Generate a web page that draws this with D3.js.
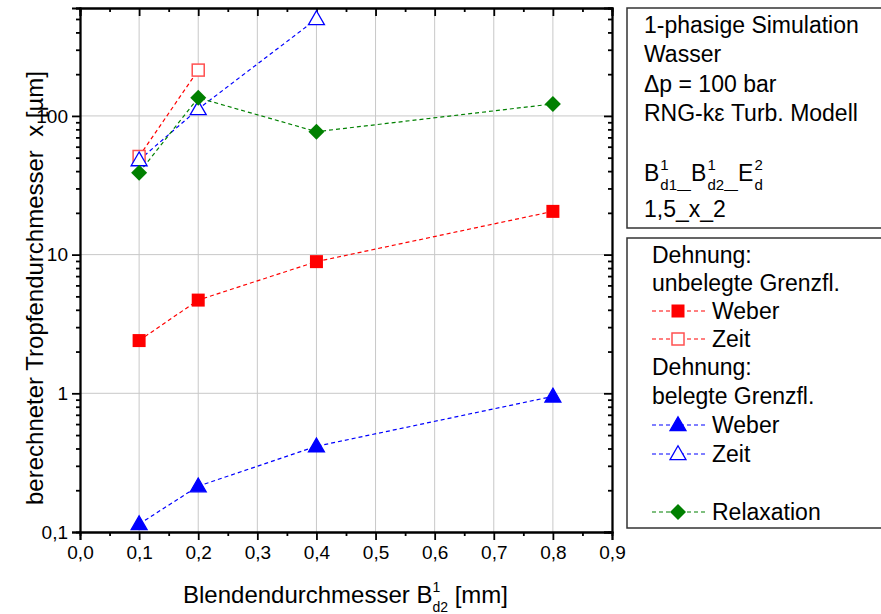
<!DOCTYPE html>
<html>
<head>
    <title>Tropfendurchmesser</title>
    <script src="https://d3js.org/d3.v7.min.js"></script>
    <style>
        body { margin: 0; background: #fff; }
        svg { font-family: "Liberation Sans", Arial, sans-serif; }
        .grid line { stroke: #c8c8c8; stroke-width: 1; }
        .axis path, .axis line { stroke: #000; stroke-width: 1.8; }
        .axis text { font-size: 19px; fill: #000; }
        .series { fill: none; stroke-width: 1.2; stroke-dasharray: 4,3; }
        .legtext { font-size: 23px; fill: #000; }
        .title { font-size: 24px; fill: #000; }
    </style>
</head>
<body>
<div id="chart"></div>
<script>
    // Data
    var xValues = [0.1, 0.2, 0.4, 0.8];
    var weberUnbelegt = [2.4, 4.7, 8.9, 20.5];
    var zeitUnbelegtX = [0.1, 0.2];
    var zeitUnbelegt = [51, 214];
    var weberBelegt = [0.114, 0.214, 0.415, 0.95];
    var zeitBelegtX = [0.1, 0.2, 0.4];
    var zeitBelegt = [48, 112, 500];
    var relaxation = [39, 135, 77, 122];

    var xTicks = [0, 0.1, 0.2, 0.3, 0.4, 0.5, 0.6, 0.7, 0.8, 0.9];
    var yTicks = [0.1, 1, 10, 100];

    var infoLines = ["1-phasige Simulation", "Wasser", "\u0394p = 100 bar", "RNG-k\u03B5 Turb. Modell"];

    var width = 881, height = 614;
    var svg = d3.select("#chart").append("svg")
        .attr("width", width)
        .attr("height", height);

    var x = d3.scaleLinear().domain([0, 0.9]).range([80, 612]);
    var y = d3.scaleLog().domain([0.1, 600]).range([532, 8]);

    var fmt = d => d3.format(".1f")(d).replace(".", ",");

    // grid
    var grid = svg.append("g").attr("class", "grid");
    grid.selectAll(".gx").data(xTicks.slice(1, 9)).enter().append("line")
        .attr("x1", d => x(d)).attr("x2", d => x(d))
        .attr("y1", y(600)).attr("y2", y(0.1));
    grid.selectAll(".gy").data([1, 10, 100]).enter().append("line")
        .attr("x1", x(0)).attr("x2", x(0.9))
        .attr("y1", d => y(d)).attr("y2", d => y(d));

    // minor ticks
    var xMinor = d3.range(0.05, 0.9, 0.1);
    var yMinor = [];
    [0.1, 1, 10, 100].forEach(function(dec) {
        for (var k = 2; k <= 9; k++) {
            if (dec * k <= 600) yMinor.push(dec * k);
        }
    });

    function addAxis(axis, transform) {
        return svg.append("g").attr("class", "axis").attr("transform", transform).call(axis);
    }

    addAxis(d3.axisBottom(x).tickValues(xTicks).tickSize(8).tickPadding(6).tickFormat(fmt), "translate(0,532)");
    addAxis(d3.axisBottom(x).tickValues(xMinor).tickSize(4).tickFormat(""), "translate(0,532)");
    addAxis(d3.axisTop(x).tickValues(xTicks).tickSize(-8).tickFormat(""), "translate(0,8)");
    addAxis(d3.axisTop(x).tickValues(xMinor).tickSize(-4).tickFormat(""), "translate(0,8)");

    addAxis(d3.axisLeft(y).tickValues(yTicks).tickSize(8).tickPadding(4)
        .tickFormat(d => d < 1 ? "0,1" : d3.format("d")(d)), "translate(80,0)");
    addAxis(d3.axisLeft(y).tickValues(yMinor).tickSize(4).tickFormat(""), "translate(80,0)");
    addAxis(d3.axisRight(y).tickValues(yTicks).tickSize(-8).tickFormat(""), "translate(612,0)");
    addAxis(d3.axisRight(y).tickValues(yMinor).tickSize(-4).tickFormat(""), "translate(612,0)");

    svg.selectAll(".axis .domain").attr("stroke-width", 2);

    // series
    var line = d3.line().x(d => x(d[0])).y(d => y(d[1]));
    var tri = d3.symbol().type(d3.symbolTriangle).size(110);

    var series = [
        { xs: zeitUnbelegtX, ys: zeitUnbelegt, color: "#ff0000", marker: "square", fill: "none", stroke: "#ff5050" },
        { xs: zeitBelegtX, ys: zeitBelegt, color: "#0000ff", marker: "tri", fill: "#fff", stroke: "#0000ff" },
        { xs: xValues, ys: relaxation, color: "#008000", marker: "dia", fill: "#008000", stroke: "#008000" },
        { xs: xValues, ys: weberUnbelegt, color: "#ff0000", marker: "square", fill: "#ff0000", stroke: "#ff0000" },
        { xs: xValues, ys: weberBelegt, color: "#0000ff", marker: "tri", fill: "#0000ff", stroke: "#0000ff" }
    ];

    function drawMarker(g, s, cx, cy) {
        if (s.marker === "square") {
            var side = s.fill === "none" ? 12 : 13;
            g.append("rect")
                .attr("x", cx - side / 2).attr("y", cy - side / 2)
                .attr("width", side).attr("height", side)
                .attr("fill", s.fill === "none" ? "#fff" : s.fill)
                .attr("stroke", s.stroke).attr("stroke-width", s.fill === "none" ? 1.5 : 0);
        } else if (s.marker === "tri") {
            g.append("path").attr("d", tri)
                .attr("transform", "translate(" + cx + "," + (cy + 1) + ")")
                .attr("fill", s.fill).attr("stroke", s.stroke).attr("stroke-width", 1.3);
        } else {
            g.append("path")
                .attr("d", "M0,-8L8,0L0,8L-8,0Z")
                .attr("transform", "translate(" + cx + "," + cy + ")")
                .attr("fill", s.fill);
        }
    }

    series.forEach(function(s) {
        var pts = s.xs.map((v, i) => [v, s.ys[i]]);
        svg.append("path").datum(pts).attr("class", "series")
            .attr("stroke", s.color).attr("d", line);
    });
    series.forEach(function(s) {
        var g = svg.append("g");
        s.xs.forEach(function(v, i) {
            drawMarker(g, s, x(v), y(s.ys[i]));
        });
    });

    // axis titles
    var xt = svg.append("text").attr("class", "title").attr("x", 183).attr("y", 603);
    xt.append("tspan").text("Blendendurchmesser B");
    xt.append("tspan").attr("font-size", 14).attr("dy", -11).text("1");
    xt.append("tspan").attr("font-size", 14).attr("dx", -7.8).attr("dy", 20).text("d2");
    xt.append("tspan").attr("dy", -9).text(" [mm]");

    svg.append("text").attr("class", "title")
        .attr("transform", "translate(43,288) rotate(-90)")
        .attr("text-anchor", "middle")
        .style("white-space", "pre")
        .text("berechneter Tropfendurchmesser  x [\u00B5m]");

    // info box
    svg.append("rect").attr("x", 627).attr("y", 8).attr("width", 270).attr("height", 220)
        .attr("fill", "none").attr("stroke", "#333").attr("stroke-width", 1.5);
    infoLines.forEach(function(t, i) {
        svg.append("text").attr("class", "legtext").attr("x", 644).attr("y", 33 + i * 29.3).text(t);
    });

    // B1d1-B1d2-E2d with stacked super/subscripts
    var cursor = 644, base = 181;
    function piece(txt, size, dy) {
        var t = svg.append("text").attr("x", cursor).attr("y", base + dy)
            .attr("font-size", size).text(txt);
        return t.node().getComputedTextLength();
    }
    [["B", "1", "d1", true], ["B", "1", "d2", true], ["E", "2", "d", false]].forEach(function(p) {
        cursor += piece(p[0], 23, 0) + 1;
        var w1 = piece(p[1], 15, -11);
        var w2 = piece(p[2], 15, 9);
        cursor += Math.max(w1, w2);
        if (p[3]) cursor += piece("\u2014", 14, 12.5);
    });
    svg.append("text").attr("class", "legtext").attr("x", 644).attr("y", 217).text("1,5_x_2");

    // legend box
    svg.append("rect").attr("x", 627).attr("y", 238).attr("width", 270).attr("height", 290)
        .attr("fill", "none").attr("stroke", "#333").attr("stroke-width", 1.5);

    var legendRows = [
        { text: "Dehnung:", y: 263 },
        { text: "unbelegte Grenzfl.", y: 291 },
        { text: "Weber", y: 319, s: series[3] },
        { text: "Zeit", y: 347, s: series[0] },
        { text: "Dehnung:", y: 375 },
        { text: "belegte Grenzfl.", y: 404 },
        { text: "Weber", y: 433, s: series[4] },
        { text: "Zeit", y: 462, s: series[1] },
        { text: "Relaxation", y: 520, s: series[2] }
    ];
    legendRows.forEach(function(r) {
        if (r.s) {
            var cy = r.y - 8;
            svg.append("line").attr("class", "series")
                .attr("x1", 652).attr("x2", 705).attr("y1", cy).attr("y2", cy)
                .attr("stroke", r.s.color).attr("stroke-dasharray", "3,2.5");
            drawMarker(svg.append("g"), r.s, 678, cy);
            svg.append("text").attr("class", "legtext").attr("x", 712).attr("y", r.y).text(r.text);
        } else {
            svg.append("text").attr("class", "legtext").attr("x", 652).attr("y", r.y).text(r.text);
        }
    });
</script>
</body>
</html>
